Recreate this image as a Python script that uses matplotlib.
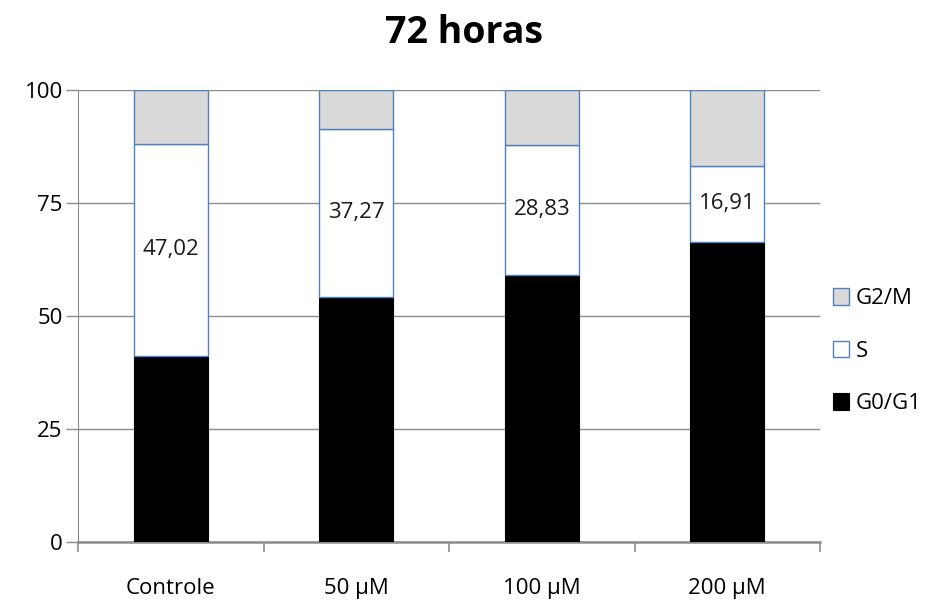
import matplotlib
matplotlib.use("Agg")
import matplotlib.pyplot as plt
import numpy as np

# cell cycle phase distribution after 72 h
groups = ["Controle", "50 µM", "100 µM", "200 µM"]
g0g1 = [41.15, 54.2, 59.07, 66.37]
s_phase = [47.02, 37.27, 28.83, 16.91]
s_labels = ["47,02", "37,27", "28,83", "16,91"]
g2m = [100 - a - b for a, b in zip(g0g1, s_phase)]

plt.rcParams["font.family"] = ["Open Sans", "DejaVu Sans"]

fig = plt.figure(figsize=(9.31, 6.01), dpi=100)
ax = fig.add_axes([0.0838, 0.0982, 0.7970, 0.7518])

x = np.arange(len(groups))
w = 0.40
edge = "#4F81BD"
b1 = ax.bar(x, g0g1, w, color="black", edgecolor="black", linewidth=0.8, label="G0/G1", zorder=3)
b2 = ax.bar(x, s_phase, w, bottom=g0g1, color="white", edgecolor=edge, linewidth=1.0, label="S", zorder=3)
b3 = ax.bar(x, g2m, w, bottom=np.add(g0g1, s_phase), color="#D9D9D9", edgecolor=edge, linewidth=1.0,
            label="G2/M", zorder=3)

for xi, base, val, txt in zip(x, g0g1, s_phase, s_labels):
    ax.text(xi, base + val / 2, txt, ha="center", va="center", fontsize=16, color="#1a1a1a", zorder=4)

ax.set_xlim(-0.5, 3.5)
ax.set_ylim(0, 100)
ax.set_yticks([0, 25, 50, 75, 100])
ax.yaxis.grid(True, color="#8C8C8C", linewidth=1.0, zorder=0)
ax.set_axisbelow(True)

ax.set_xticks(x)
ax.set_xticklabels(groups, fontsize=16)
ax.tick_params(axis="x", length=0, pad=26)
ax.set_xticks(np.arange(-0.5, 4.0, 1.0), minor=True)
ax.tick_params(axis="x", which="minor", length=7, color="#8C8C8C", width=1.2, direction="out")
ax.tick_params(axis="y", length=9, color="#8C8C8C", width=1.0, labelsize=16, pad=2)

for side in ["top", "right"]:
    ax.spines[side].set_visible(False)
ax.spines["left"].set_color("#8C8C8C")
ax.spines["bottom"].set_color("#8C8C8C")
ax.spines["bottom"].set_linewidth(1.8)

fig.text(0.498, 0.945, "72 horas", ha="center", va="center", fontsize=27, fontweight="bold")

handles = [b3, b2, b1]
ax.legend(handles, ["G2/M", "S", "G0/G1"], loc="center left", bbox_to_anchor=(1.008, 0.422),
          frameon=False, fontsize=16, handlelength=0.75, handleheight=0.75, handletextpad=0.3,
          labelspacing=1.42, borderaxespad=0, borderpad=0.3)

fig.savefig("out.png", dpi=100)
